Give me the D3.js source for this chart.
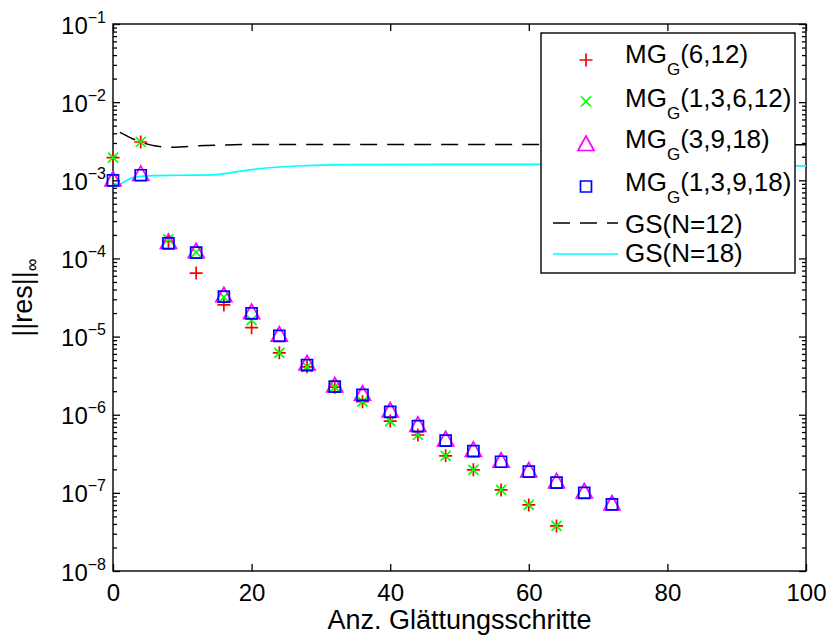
<!DOCTYPE html>
<html>
<head>
<meta charset="utf-8">
<script src="https://cdn.jsdelivr.net/npm/d3@7"></script>
<style>
  body { margin: 0; background: #fff; }
  text { font-family: "Liberation Sans", Arial, sans-serif; fill: #000; }
</style>
</head>
<body>
<div class="chart"></div>
<script>
// data
var steps = [0, 4, 8, 12, 16, 20, 24, 28, 32, 36, 40, 44, 48, 52, 56, 60, 64, 68, 72];
var mg612 = [1.95e-3, 3.09e-3, 1.65e-4, 6.5e-5, 2.54e-5, 1.3e-5, 6.2e-6, 4.1e-6, 2.25e-6, 1.47e-6, 8.3e-7, 5.5e-7, 2.98e-7, 1.97e-7, 1.09e-7, 7.0e-8, 3.77e-8];
var mg13612 = [1.95e-3, 3.09e-3, 1.75e-4, 1.2e-4, 3.2e-5, 1.62e-5, 6.2e-6, 4.1e-6, 2.25e-6, 1.47e-6, 8.3e-7, 5.5e-7, 2.98e-7, 1.97e-7, 1.09e-7, 7.0e-8, 3.77e-8];
var mg3918 = [1.0e-3, 1.17e-3, 1.58e-4, 1.2e-4, 3.28e-5, 2.0e-5, 1.03e-5, 4.4e-6, 2.3e-6, 1.8e-6, 1.1e-6, 7.2e-7, 4.7e-7, 3.45e-7, 2.5e-7, 1.88e-7, 1.36e-7, 1.01e-7, 7.1e-8];
var mg13918 = [1.0e-3, 1.16e-3, 1.56e-4, 1.19e-4, 3.24e-5, 1.98e-5, 1.02e-5, 4.32e-6, 2.29e-6, 1.79e-6, 1.09e-6, 7.16e-7, 4.65e-7, 3.43e-7, 2.5e-7, 1.87e-7, 1.35e-7, 1.0e-7, 7.13e-8];

var gs12Steps = [1, 2, 3, 4, 5, 6, 7, 8, 10, 12, 16, 20, 30, 50, 70, 100];
var gs12 = [4.1e-3, 3.7e-3, 3.35e-3, 3.1e-3, 2.9e-3, 2.76e-3, 2.68e-3, 2.64e-3, 2.68e-3, 2.75e-3, 2.83e-3, 2.87e-3, 2.88e-3, 2.87e-3, 2.86e-3, 2.84e-3];
var gs18Steps = [0, 1, 2, 3, 4, 6, 10, 15, 17, 20, 24, 28, 35, 50, 60, 80, 100];
var gs18 = [8.6e-4, 8.9e-4, 1.0e-3, 1.09e-3, 1.12e-3, 1.15e-3, 1.16e-3, 1.18e-3, 1.25e-3, 1.37e-3, 1.48e-3, 1.54e-3, 1.59e-3, 1.6e-3, 1.6e-3, 1.57e-3, 1.53e-3];

var xTicks = [0, 20, 40, 60, 80, 100];
var yExps = [-1, -2, -3, -4, -5, -6, -7, -8];

var svgWidth = 830;
var svgHeight = 641;
var margin = { top: 24, right: 24, bottom: 70, left: 113 };
var width = svgWidth - margin.left - margin.right;
var height = svgHeight - margin.top - margin.bottom;

var svg = d3.select(".chart")
  .append("svg")
  .attr("width", svgWidth)
  .attr("height", svgHeight);

var chartGroup = svg.append("g")
  .attr("transform", `translate(${margin.left}, ${margin.top})`);

var x = d3.scaleLinear().domain([0, 100]).range([0, width]);
var y = d3.scaleLog().domain([1e-8, 1e-1]).range([height, 0]);

var majorY = yExps.map(function(e) { return Math.pow(10, e); });
var minorY = [];
yExps.slice(1).forEach(function(e) {
  for (var k = 2; k <= 9; k++) minorY.push(k * Math.pow(10, e));
});

// axes: ticks point inward, MATLAB style
function styleAxis(g) {
  g.select(".domain").remove();
  g.selectAll(".tick line").attr("stroke", "#000").attr("stroke-width", 1.3);
}

chartGroup.append("g")
  .attr("transform", `translate(0, ${height})`)
  .call(d3.axisBottom(x).tickValues(xTicks).tickSize(-7).tickPadding(13).tickFormat(d3.format("d")))
  .call(styleAxis)
  .selectAll("text").attr("font-size", "24px").attr("fill", "#000");

chartGroup.append("g")
  .call(d3.axisTop(x).tickValues(xTicks).tickSize(-7).tickFormat(""))
  .call(styleAxis);

var yLeft = chartGroup.append("g")
  .call(d3.axisLeft(y).tickValues(majorY).tickSize(-7).tickFormat(""))
  .call(styleAxis);

yLeft.selectAll(".tick text")
  .attr("font-size", "24px")
  .attr("fill", "#000")
  .attr("x", -7)
  .attr("dy", "0.38em")
  .attr("text-anchor", "end")
  .each(function(d) {
    var t = d3.select(this);
    t.text("10");
    t.append("tspan")
      .attr("font-size", "16px")
      .attr("dy", "-11")
      .text("\u2212" + Math.round(-Math.log10(d)));
  });

chartGroup.append("g")
  .call(d3.axisLeft(y).tickValues(minorY).tickSize(-4).tickFormat(""))
  .call(styleAxis);

chartGroup.append("g")
  .attr("transform", `translate(${width}, 0)`)
  .call(d3.axisRight(y).tickValues(majorY).tickSize(-7).tickFormat(""))
  .call(styleAxis);

chartGroup.append("g")
  .attr("transform", `translate(${width}, 0)`)
  .call(d3.axisRight(y).tickValues(minorY).tickSize(-4).tickFormat(""))
  .call(styleAxis);

// box
chartGroup.append("rect")
  .attr("width", width)
  .attr("height", height)
  .attr("fill", "none")
  .attr("stroke", "#000")
  .attr("stroke-width", 1.4);

// lines
var line = d3.line()
  .x(function(d) { return x(d[0]); })
  .y(function(d) { return y(d[1]); })
  .curve(d3.curveMonotoneX);

chartGroup.append("path")
  .datum(d3.zip(gs12Steps, gs12))
  .attr("d", line)
  .attr("fill", "none")
  .attr("stroke", "#000")
  .attr("stroke-width", 1.5)
  .attr("stroke-dasharray", "17,10");

chartGroup.append("path")
  .datum(d3.zip(gs18Steps, gs18))
  .attr("d", line)
  .attr("fill", "none")
  .attr("stroke", "#00ffff")
  .attr("stroke-width", 1.7);

// marker shapes
var shapes = {
  plus: "M-6.5,0H6.5M0,-6.5V6.5",
  cross: "M-5,-5L5,5M-5,5L5,-5",
  tri: "M0,-9L8,5.5L-8,5.5Z",
  square: "M-5.5,-5.5H5.5V5.5H-5.5Z"
};

var series = [
  { name: "6,12", values: mg612, shape: "plus", color: "#ff0000" },
  { name: "1,3,6,12", values: mg13612, shape: "cross", color: "#00ff00" },
  { name: "3,9,18", values: mg3918, shape: "tri", color: "#ff00ff" },
  { name: "1,3,9,18", values: mg13918, shape: "square", color: "#0000ff" }
];

series.forEach(function(s) {
  chartGroup.selectAll(null)
    .data(s.values)
    .enter()
    .append("path")
    .attr("transform", function(d, i) { return `translate(${x(steps[i])}, ${y(d)})`; })
    .attr("d", shapes[s.shape])
    .attr("fill", "none")
    .attr("stroke", s.color)
    .attr("stroke-width", 1.7);
});

// legend
var legend = svg.append("g").attr("transform", "translate(541, 33)");
legend.append("rect")
  .attr("width", 254)
  .attr("height", 240)
  .attr("fill", "#fff")
  .attr("stroke", "#000")
  .attr("stroke-width", 1.4);

var rowY = [27, 68.5, 112, 153.5];
var rowBase = [30, 74, 115, 158];
series.forEach(function(s, i) {
  legend.append("path")
    .attr("transform", `translate(45, ${rowY[i]})`)
    .attr("d", shapes[s.shape])
    .attr("fill", "none")
    .attr("stroke", s.color)
    .attr("stroke-width", 1.7);
  var t = legend.append("text")
    .attr("x", 84)
    .attr("y", rowBase[i])
    .attr("font-size", "26px")
    .text("MG");
  t.append("tspan").attr("font-size", "17px").attr("dy", "12").text("G");
  t.append("tspan").attr("dy", "-12").text("(" + s.name + ")");
});

var lineRows = [
  { label: "GS(N=12)", color: "#000", dash: "17,10", y: 190, base: 200 },
  { label: "GS(N=18)", color: "#00ffff", dash: null, y: 221, base: 229 }
];
lineRows.forEach(function(r) {
  legend.append("line")
    .attr("x1", 12).attr("x2", 77)
    .attr("y1", r.y).attr("y2", r.y)
    .attr("stroke", r.color)
    .attr("stroke-width", r.dash ? 1.5 : 1.7)
    .attr("stroke-dasharray", r.dash);
  legend.append("text")
    .attr("x", 84)
    .attr("y", r.base)
    .attr("font-size", "26px")
    .text(r.label);
});

// axis labels
svg.append("text")
  .attr("x", margin.left + width / 2)
  .attr("y", 629)
  .attr("text-anchor", "middle")
  .attr("font-size", "27px")
  .text("Anz. Glättungsschritte");

var yl = svg.append("text")
  .attr("transform", `translate(32, ${margin.top + height / 2}) rotate(-90)`)
  .attr("text-anchor", "middle")
  .attr("font-size", "27px")
  .text("||res||");
yl.append("tspan").attr("font-size", "18px").attr("dy", "6").text("\u221e");
</script>
</body>
</html>
